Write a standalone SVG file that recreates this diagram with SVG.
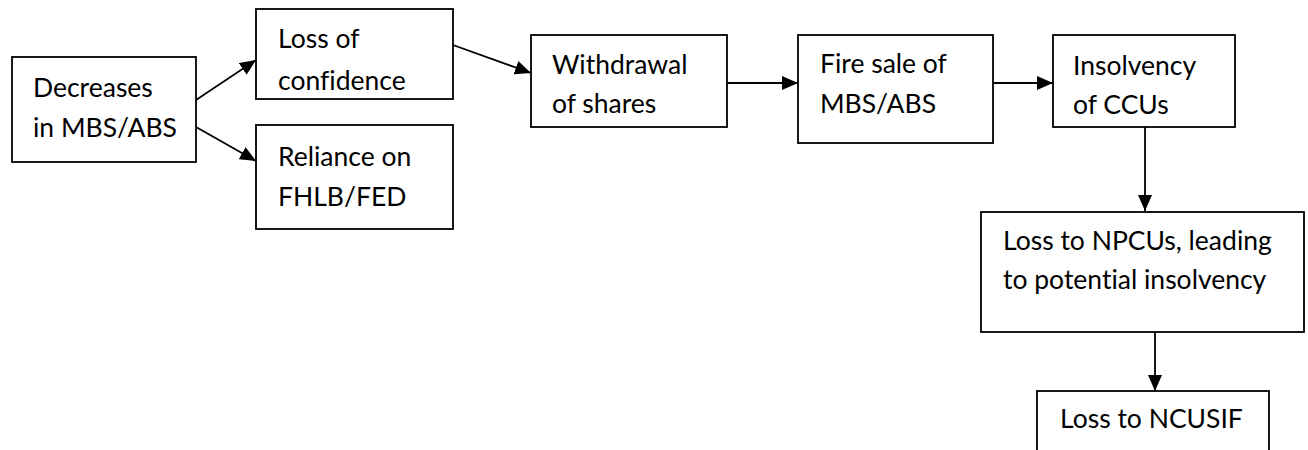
<svg xmlns="http://www.w3.org/2000/svg" width="1308" height="450" viewBox="0 0 1308 450">
<style>
.box{fill:#fff;stroke:#000;stroke-width:1.8}
.t{font-family:Lato,"Liberation Sans",sans-serif;font-size:26.5px;fill:#000;font-variant-ligatures:none;font-feature-settings:"liga" 0,"clig" 0}
.c{stroke:#000;stroke-width:1.8;fill:none;marker-end:url(#arr)}
</style>
<defs>
<marker id="arr" markerUnits="userSpaceOnUse" markerWidth="16" markerHeight="14" refX="16" refY="7" orient="auto">
<path d="M0,0 L16,7 L0,14 z" fill="#000"/>
</marker>
</defs>
<rect width="1308" height="450" fill="#fff"/>
<g id="connectors">
<line class="c" x1="196" y1="100" x2="256" y2="60"/>
<line class="c" x1="196" y1="127" x2="256" y2="161"/>
<line class="c" x1="453" y1="45" x2="531" y2="73"/>
<line class="c" x1="727" y1="83" x2="798" y2="83"/>
<line class="c" x1="993" y1="83" x2="1053" y2="83"/>
<line class="c" x1="1145" y1="127" x2="1145" y2="211"/>
<line class="c" x1="1155" y1="332" x2="1155" y2="391"/>
</g>
<g id="n1"><rect class="box" x="12" y="57" width="184" height="105"/><text class="t" x="33" y="97">Decreases</text><text class="t" x="33" y="137">in MBS/ABS</text></g>
<g id="n2"><rect class="box" x="256" y="9" width="197" height="90"/><text class="t" x="278" y="48">Loss of</text><text class="t" x="278" y="90">confidence</text></g>
<g id="n3"><rect class="box" x="256" y="125" width="197" height="104"/><text class="t" x="278" y="166">Reliance on</text><text class="t" x="278" y="206">FHLB/FED</text></g>
<g id="n4"><rect class="box" x="531" y="35" width="196" height="92"/><text class="t" x="552" y="74">Withdrawal</text><text class="t" x="552" y="113">of shares</text></g>
<g id="n5"><rect class="box" x="798" y="35" width="195" height="108"/><text class="t" x="820" y="73">Fire sale of</text><text class="t" x="820" y="113">MBS/ABS</text></g>
<g id="n6"><rect class="box" x="1053" y="35" width="182" height="92"/><text class="t" x="1073" y="75">Insolvency</text><text class="t" x="1073" y="114">of CCUs</text></g>
<g id="n7"><rect class="box" x="981" y="212" width="323" height="120"/><text class="t" x="1003" y="250">Loss to NPCUs, leading</text><text class="t" x="1003" y="289">to potential insolvency</text></g>
<g id="n8"><rect class="box" x="1037" y="391" width="232" height="80"/><text class="t" x="1060" y="428">Loss to NCUSIF</text></g>
</svg>
